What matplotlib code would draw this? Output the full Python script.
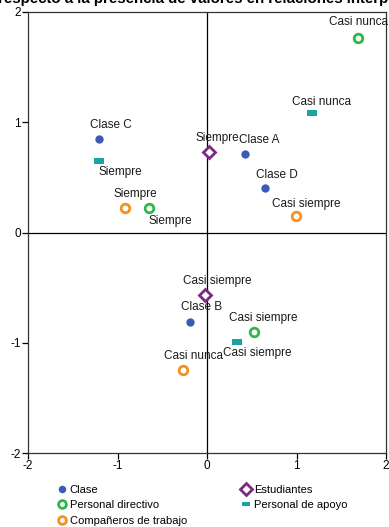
import matplotlib
matplotlib.use("Agg")
import matplotlib.pyplot as plt
import matplotlib.path as mpath
import numpy as np

plt.rcParams['font.family'] = ['Liberation Sans', 'DejaVu Sans']

# ---- data ----
groups = ["Clase", "Personal directivo", "Compañeros de trabajo", "Estudiantes", "Personal de apoyo"]

clase_labels = ["Clase A", "Clase B", "Clase C", "Clase D"]
clase_x = [0.43, -0.19, -1.21, 0.65]
clase_y = [0.71, -0.81, 0.85, 0.40]

directivo_labels = ["Casi nunca", "Siempre", "Casi siempre"]
directivo_x = [1.69, -0.65, 0.52]
directivo_y = [1.76, 0.22, -0.90]

companeros_labels = ["Siempre", "Casi siempre", "Casi nunca"]
companeros_x = [-0.92, 0.99, -0.27]
companeros_y = [0.22, 0.15, -1.25]

estudiantes_labels = ["Siempre", "Casi siempre"]
estudiantes_x = [0.02, -0.02]
estudiantes_y = [0.73, -0.57]

apoyo_labels = ["Casi nunca", "Siempre", "Casi siempre"]
apoyo_x = [1.17, -1.21, 0.33]
apoyo_y = [1.08, 0.65, -0.99]

ticks = [-2, -1, 0, 1, 2]

# ---- styles / label offsets (pixels) ----
fig = plt.figure(figsize=(3.89, 5.27), dpi=100)
ax = fig.add_axes([28/389, 1-453/527, 358/389, 441/527])

C_BLUE = "#3b5bb5"
C_GREEN = "#2eb84b"
C_ORANGE = "#f5911f"
C_PURPLE = "#7b2a83"
C_TEAL = "#1aa3a3"

rect = mpath.Path(np.array([[-1, -0.55], [1, -0.55], [1, 0.55], [-1, 0.55], [-1, -0.55]]), closed=True)

series = [
    (clase_x, clase_y, clase_labels, dict(marker='o', ms=6, mfc=C_BLUE, mec=C_BLUE, mew=0),
     [(14, -14), (12, -15), (12, -14), (12, -13)]),
    (directivo_x, directivo_y, directivo_labels, dict(marker='o', ms=6.2, mfc='white', mec=C_GREEN, mew=2),
     [(0, -16), (21, 13), (10, -14)]),
    (companeros_x, companeros_y, companeros_labels, dict(marker='o', ms=6.2, mfc='white', mec=C_ORANGE, mew=2),
     [(11, -14), (11, -12), (11, -14)]),
    (estudiantes_x, estudiantes_y, estudiantes_labels, dict(marker='D', ms=6.5, mfc='white', mec=C_PURPLE, mew=2),
     [(9, -14), (12, -14)]),
    (apoyo_x, apoyo_y, apoyo_labels, dict(marker=rect, ms=7, mfc=C_TEAL, mec=C_TEAL, mew=0),
     [(10, -11), (22, 11), (21, 11)]),
]

handles = []
for (xs, ys, labs, st, offs), name in zip(series, groups):
    h, = ax.plot(xs, ys, linestyle='none', label=name, zorder=3, **st)
    handles.append(h)
    for x, y, lab, (dx, dy) in zip(xs, ys, labs, offs):
        ax.annotate(lab, (x, y), xytext=(dx, -dy), textcoords='offset pixels',
                    ha='center', va='center', fontsize=8.5, color='#1a1a1a')

ax.axhline(0, color='black', lw=0.9, zorder=1)
ax.axvline(0, color='black', lw=0.9, zorder=1)

ax.set_xlim(-2, 2)
ax.set_ylim(-2, 2)
ax.set_xticks(ticks)
ax.set_yticks(ticks)
ax.set_xticklabels([str(t) for t in ticks])
ax.set_yticklabels([str(t) for t in ticks])
ax.tick_params(direction='out', length=4, width=0.9, labelsize=8.5, pad=1, colors='black')
for s in ax.spines.values():
    s.set_linewidth(0.9)
    s.set_color('#333333')

fig.text(-2/389, 1-3/527, "respecto a la presencia de valores en relaciones interpersonales",
         fontsize=10.8, fontweight='bold', ha='left', va='baseline')

leg = fig.legend(handles, groups,
                 loc='upper left', bbox_to_anchor=(52/389, 1-479/527), ncol=2,
                 frameon=False, fontsize=8, handlelength=0.8, handletextpad=0.3,
                 labelspacing=0.5, columnspacing=4.9, borderpad=0, markerscale=0.9)

fig.savefig("out.png", dpi=100)
